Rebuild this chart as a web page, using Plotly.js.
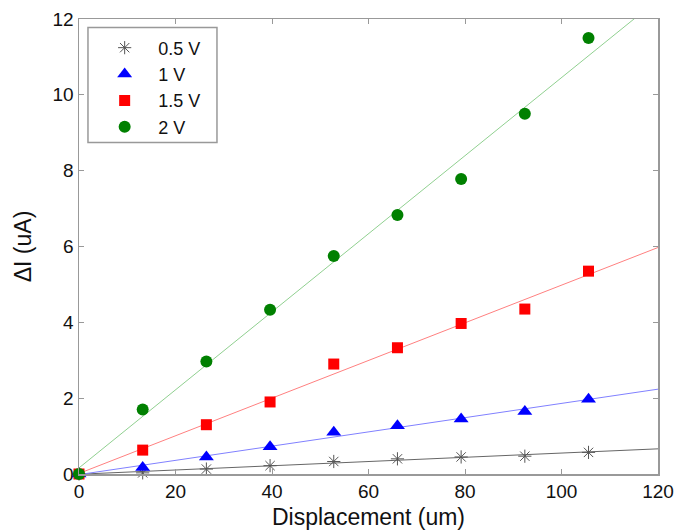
<!DOCTYPE html>
<html>
<head>
<meta charset="utf-8">
<script src="https://cdn.plot.ly/plotly-3.0.1.min.js"></script>
<style>html,body{margin:0;padding:0;background:#fff;}#chart{width:692px;height:531px;}</style>
</head>
<body>
<div id="chart"></div>
<script>
// Data
const displacement = [0, 13.2, 26.4, 39.6, 52.8, 66, 79.2, 92.4, 105.6];
const seriesNames = ['0.5 V', '1 V', '1.5 V', '2 V'];
const dI_05V = [0, 0.03, 0.13, 0.22, 0.33, 0.40, 0.45, 0.47, 0.57];
const dI_1V  = [0, 0.17, 0.45, 0.72, 1.10, 1.27, 1.45, 1.65, 1.97];
const dI_15V = [0, 0.63, 1.30, 1.90, 2.90, 3.33, 3.97, 4.35, 5.35];
const dI_2V  = [0, 1.70, 2.97, 4.33, 5.75, 6.83, 7.78, 9.50, 11.50];
const xTicks = [0, 20, 40, 60, 80, 100, 120];
const yTicks = [0, 2, 4, 6, 8, 10, 12];
const fitRange = [0, 120];

function fit(x, y) {
  const n = x.length;
  const mx = x.reduce((a, b) => a + b, 0) / n;
  const my = y.reduce((a, b) => a + b, 0) / n;
  let sxy = 0, sxx = 0;
  for (let i = 0; i < n; i++) { sxy += (x[i] - mx) * (y[i] - my); sxx += (x[i] - mx) ** 2; }
  const m = sxy / sxx, b = my - m * mx;
  return fitRange.map(v => m * v + b);
}

const styles = [
  {marker: {symbol: 'asterisk-open', size: 11, color: '#555', line: {color: '#555', width: 1}}, line: '#666'},
  {marker: {symbol: 'triangle-up', size: 13, color: '#0000ff'}, line: '#8080ff'},
  {marker: {symbol: 'square', size: 11, color: '#ff0000'}, line: '#ff8080'},
  {marker: {symbol: 'circle', size: 12, color: '#008000'}, line: '#90d090'}
];
const allY = [dI_05V, dI_1V, dI_15V, dI_2V];

const traces = [];
allY.forEach((y, i) => {
  traces.push({x: fitRange, y: fit(displacement, y), mode: 'lines', showlegend: false,
    line: {color: styles[i].line, width: 1}, hoverinfo: 'skip'});
});
allY.forEach((y, i) => {
  traces.push({x: displacement, y: y, mode: 'markers', name: seriesNames[i],
    marker: styles[i].marker, cliponaxis: false});
});

const axisCommon = {
  showgrid: false, zeroline: false, showline: true, mirror: 'ticks',
  linecolor: '#999', linewidth: 1.5, ticks: 'inside', ticklen: 5, tickcolor: '#999',
  tickfont: {family: 'Liberation Sans, Arial, sans-serif', size: 19, color: '#111'}
};

const layout = {
  width: 692, height: 531,
  margin: {l: 79, r: 34, t: 19, b: 57},
  paper_bgcolor: '#fff', plot_bgcolor: '#fff',
  font: {family: 'Liberation Sans, Arial, sans-serif', color: '#111'},
  xaxis: Object.assign({}, axisCommon, {range: [0, 120], tickvals: xTicks, ticktext: xTicks.map(String),
    title: {text: 'Displacement (um)', font: {size: 23, color: '#111'}, standoff: 7}}),
  yaxis: Object.assign({}, axisCommon, {range: [0, 12], tickvals: yTicks, ticktext: yTicks.map(String),
    title: {text: 'ΔI (uA)', font: {size: 23, color: '#111'}, standoff: 14}}),
  showlegend: true,
  legend: {x: 0.021, y: 0.977, xanchor: 'left', yanchor: 'top', borderwidth: 0,
    bgcolor: 'rgba(0,0,0,0)', font: {size: 18, color: '#111'}, itemwidth: 57, tracegroupgap: 0},
  shapes: [{type: 'rect', xref: 'paper', yref: 'paper', x0: 0.0155, x1: 0.2383, y0: 0.7283, y1: 0.9813,
    line: {color: '#999', width: 1.5}, fillcolor: '#fff', layer: 'below'}]
};

Plotly.newPlot('chart', traces, layout, {displayModeBar: false, staticPlot: true});
</script>
</body>
</html>
